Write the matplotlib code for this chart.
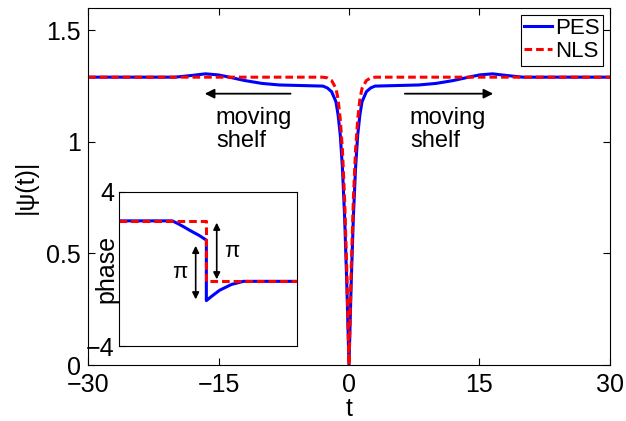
import numpy as np
import matplotlib
matplotlib.use("Agg")
import matplotlib.pyplot as plt

plt.rcParams['font.family'] = ['Liberation Sans', 'DejaVu Sans']

# main panel: |psi(t)| (symmetric about t = 0)
t_pes_half = [0, 0.25, 0.5, 0.75, 1.0, 1.25, 1.5, 2.0, 2.5, 3.0, 5.0, 8.0,
              10.0, 12.0, 14.0, 15.0, 16.5, 18.0, 20.0, 30.0]
amp_pes_half = [0, 0.36, 0.66, 0.88, 1.03, 1.12, 1.18, 1.225, 1.242, 1.25, 1.252, 1.255,
                1.262, 1.275, 1.292, 1.300, 1.305, 1.298, 1.29, 1.29]
t_nls_half = [0, 0.25, 0.5, 0.75, 1.0, 1.25, 1.5, 2.0, 2.5, 3.0, 30.0]
amp_nls_half = [0, 0.42, 0.74, 0.96, 1.1, 1.19, 1.24, 1.275, 1.287, 1.29, 1.29]

# inset: phase
t_ph_pes = [-30, -12, -10, -8, -6, -3, -0.5, -0.5, 1, 4, 8, 12, 30]
ph_pes = [2.5, 2.5, 2.35, 2.18, 2.0, 1.75, 1.5, -1.64, -1.45, -1.1, -0.8, -0.64, -0.64]
t_ph_nls = [-30, -0.5, -0.5, 30]
ph_nls = [2.5, 2.5, -0.64, -0.64]

t_pes = np.concatenate([-np.array(t_pes_half[::-1]), np.array(t_pes_half[1:])])
a_pes = np.concatenate([np.array(amp_pes_half[::-1]), np.array(amp_pes_half[1:])])
t_nls = np.concatenate([-np.array(t_nls_half[::-1]), np.array(t_nls_half[1:])])
a_nls = np.concatenate([np.array(amp_nls_half[::-1]), np.array(amp_nls_half[1:])])

fs = 18
fig = plt.figure(figsize=(6.26, 4.21), dpi=100)
ax = fig.add_axes([0.1406, 0.133, 0.8338, 0.848])
ax.plot(t_pes, a_pes, color='#0000ff', lw=2.2, label='PES')
ax.plot(t_nls, a_nls, color='#ff0000', lw=2.2, ls=(0, (2.5, 1.3)), label='NLS')
ax.set_xlim(-30, 30)
ax.set_ylim(0, 1.6)
ax.set_xticks([-30, -15, 0, 15, 30])
ax.set_xticklabels(['\u221230', '\u221215', '0', '15', '30'])
ax.set_yticks([0, 0.5, 1, 1.5])
ax.set_yticklabels(['0', '0.5', '1', '1.5'])
ax.tick_params(direction='in', top=True, right=True, length=5, labelsize=fs)
ax.tick_params(axis='x', pad=6)
ax.tick_params(axis='y', pad=5)
ax.set_xlabel('t', fontsize=fs, labelpad=0)
ax.set_ylabel('|\u03c8(t)|', fontsize=fs, labelpad=6)
leg = ax.legend(loc='upper right', fontsize=16, handlelength=1.25, handletextpad=0.15,
                borderpad=0.15, labelspacing=0.1, fancybox=False, framealpha=1,
                edgecolor='black', borderaxespad=0.3)
leg.get_frame().set_linewidth(0.8)

arr = dict(arrowstyle='-|>', color='black', lw=1.3, mutation_scale=14)
ax.annotate('', xy=(-16.9, 1.216), xytext=(-6.4, 1.216), arrowprops=arr)
ax.annotate('', xy=(16.9, 1.216), xytext=(6.1, 1.216), arrowprops=arr)
ax.text(-15.3, 1.157, 'moving\nshelf', fontsize=17, va='top', ha='left', linespacing=1.08)
ax.text(7.0, 1.157, 'moving\nshelf', fontsize=17, va='top', ha='left', linespacing=1.08)

# inset
ins = fig.add_axes([0.190, 0.178, 0.284, 0.366])
ins.plot(t_ph_pes, ph_pes, color='#0000ff', lw=2.2)
ins.plot(t_ph_nls, ph_nls, color='#ff0000', lw=2.2, ls=(0, (2.5, 1.3)))
ins.set_xlim(-30, 30)
ins.set_ylim(-4, 4)
ins.set_xticks([])
ins.set_yticks([-4, 4])
ins.set_yticklabels(['\u22124', '4'])
ins.tick_params(direction='in', length=4, labelsize=fs, pad=3)
ins.set_ylabel('phase', fontsize=fs, labelpad=-23)
darr = dict(arrowstyle='<|-|>', color='black', lw=1.2, mutation_scale=10)
ins.annotate('', xy=(-4.1, 1.35), xytext=(-4.1, -1.72), arrowprops=darr)
ins.annotate('', xy=(3.0, 2.55), xytext=(3.0, -0.68), arrowprops=darr)
ins.text(-9.5, -0.2, '\u03c0', fontsize=16, ha='center', va='center')
ins.text(8.0, 0.93, '\u03c0', fontsize=16, ha='center', va='center')

fig.savefig('out.png', dpi=100)
